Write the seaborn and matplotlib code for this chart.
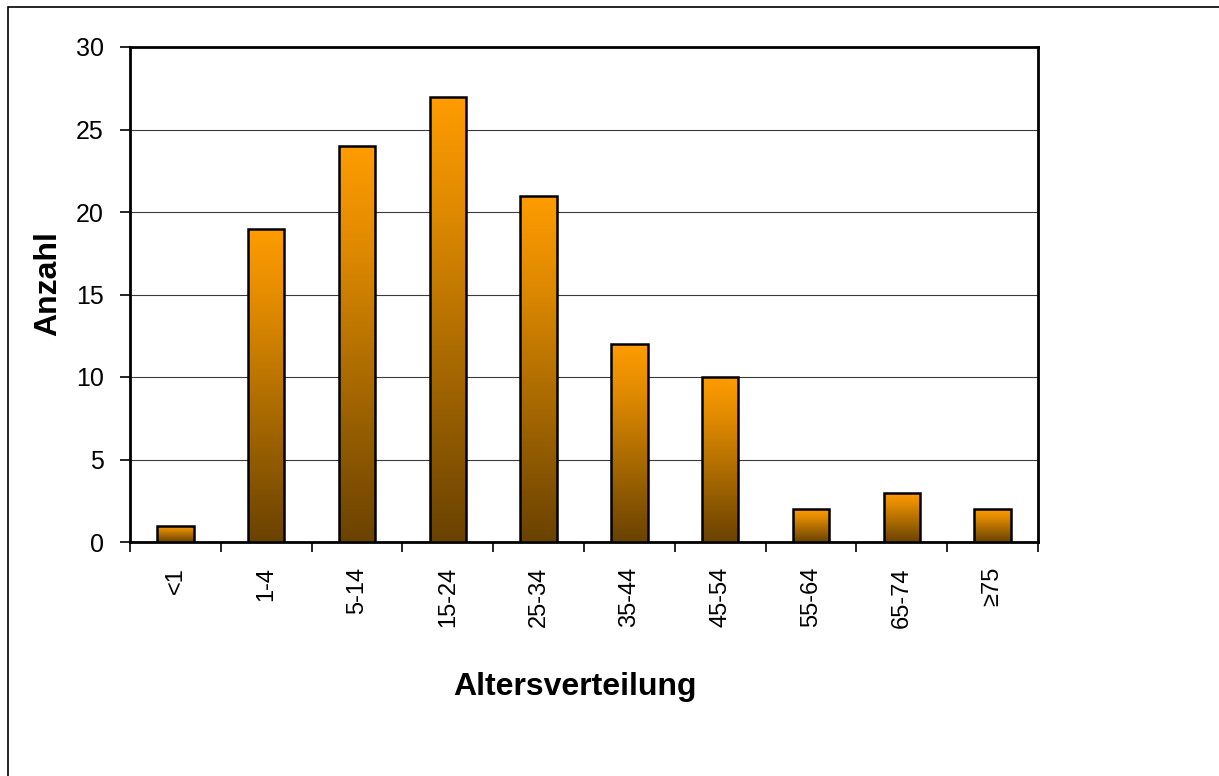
import numpy as np
import pandas as pd
import matplotlib
matplotlib.use("Agg")
import matplotlib.pyplot as plt
from matplotlib.colors import LinearSegmentedColormap
from matplotlib.patches import Rectangle
import seaborn as sns

# Age groups and case counts
age_groups = ["<1", "1-4", "5-14", "15-24", "25-34", "35-44", "45-54", "55-64", "65-74", "≥75"]
counts = [1, 19, 24, 27, 21, 12, 10, 2, 3, 2]

sns.set_theme(style="white", rc={"xtick.bottom": True, "ytick.left": True,
                                 "text.color": "black", "axes.labelcolor": "black",
                                 "xtick.color": "black", "ytick.color": "black"})
plt.rcParams["font.family"] = ["Liberation Sans", "DejaVu Sans"]

df = pd.DataFrame({"Altersgruppe": age_groups, "Anzahl": counts})

fig = plt.figure(figsize=(12.19, 7.76), dpi=100)
ax = fig.add_axes([130 / 1219, 1 - 542 / 776, 908 / 1219, 495 / 776])

sns.barplot(data=df, x="Altersgruppe", y="Anzahl", ax=ax, width=0.4,
            color="#ff9900", edgecolor="black", linewidth=1.8, saturation=1, zorder=3)

# Vertical orange-to-brown fill for each bar
cmap = LinearSegmentedColormap.from_list(
    "bar_fill", [(0.0, "#6a4200"), (0.45, "#b06e00"), (0.75, "#e08a00"), (1.0, "#ff9c00")])
grad = np.linspace(0, 1, 256).reshape(-1, 1)
for patch in ax.patches:
    x0, y0 = patch.get_x(), patch.get_y()
    w, h = patch.get_width(), patch.get_height()
    img = ax.imshow(grad, cmap=cmap, aspect="auto", origin="lower",
                    extent=(x0, x0 + w, y0, y0 + h), zorder=3.5)
    img.set_clip_path(patch)
    patch.set_facecolor("none")
    patch.set_zorder(4)

ax.set_xlim(-0.5, len(age_groups) - 0.5)
ax.set_ylim(0, 30)
ax.set_yticks(range(0, 31, 5))
ax.yaxis.grid(True, color="#3a3a3a", linewidth=0.8, zorder=0)
ax.set_axisbelow(True)

# Category boundary ticks on the x axis, labels at the centres
ax.set_xticks(np.arange(-0.5, len(age_groups), 1.0), minor=False)
ax.set_xticklabels([])
ax.set_xticks(np.arange(len(age_groups)), minor=True)
ax.set_xticklabels(age_groups, minor=True, rotation=90, fontsize=17)
ax.tick_params(axis="x", which="major", bottom=True, direction="out", length=7, width=1.2, color="black")
ax.tick_params(axis="x", which="minor", bottom=False, length=0, pad=18)
ax.tick_params(axis="y", left=True, direction="out", length=7, width=1.2, color="black",
               labelsize=18, pad=12)

for side in ["left", "bottom", "top", "right"]:
    ax.spines[side].set_visible(True)
    ax.spines[side].set_color("black")
    ax.spines[side].set_linewidth(2)

ax.set_xlabel("Altersverteilung", fontsize=23, fontweight="bold", va="center")
ax.set_ylabel("Anzahl", fontsize=23, fontweight="bold", va="center")
ax.xaxis.set_label_coords(0.49, -0.293)
ax.yaxis.set_label_coords(-0.09, 0.523)

# Outer frame of the chart area
fig.patches.append(Rectangle((8 / 1219, -0.1), 1.2, 1 - 7 / 776 + 0.1,
                             transform=fig.transFigure, fill=False,
                             edgecolor="black", linewidth=1.2))

fig.savefig("out.png", dpi=100)
